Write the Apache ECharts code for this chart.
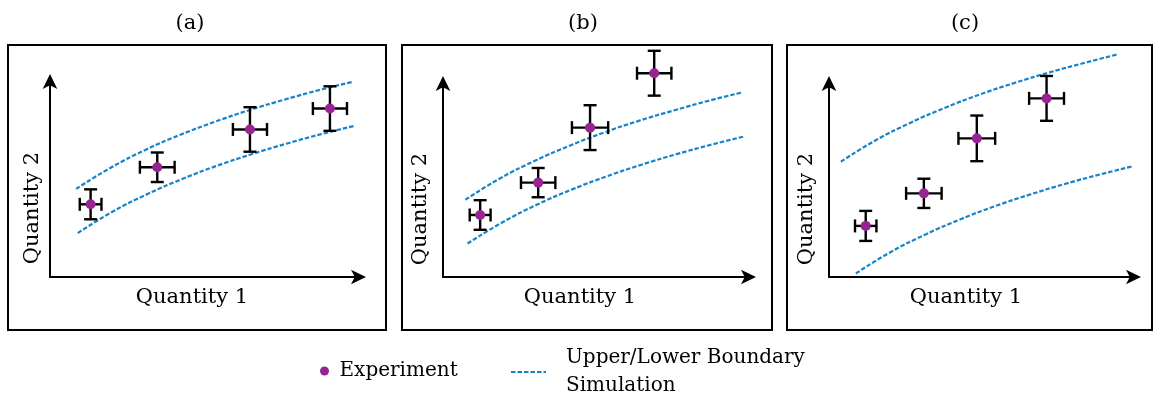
<!DOCTYPE html>
<html>
<head>
<meta charset="utf-8">
<script src="https://cdn.jsdelivr.net/npm/echarts@6/dist/echarts.min.js"></script>
<style>
html,body{margin:0;padding:0;background:#fff;}
#chart{width:1154px;height:401px;}
</style>
</head>
<body>
<div id="chart"></div>
<script>
// ---- data (arbitrary units, axes run 0..10) ----
const panelTitles = ['(a)', '(b)', '(c)'];
const xName = 'Quantity 1';
const yName = 'Quantity 2';
const expName = 'Experiment';
const simName = 'Upper/Lower Boundary\nSimulation';

// experiment points: [x, y, xError, yError]
const expA = [[1.31,3.69,0.35,0.76],[3.46,5.57,0.56,0.75],[6.45,7.49,0.55,1.13],[9.03,8.55,0.55,1.13]];
const expB = [[1.21,3.18,0.34,0.76],[3.10,4.84,0.56,0.75],[4.79,7.66,0.59,1.15],[6.88,10.45,0.56,1.15]];
const expC = [[1.20,2.62,0.35,0.77],[3.10,4.29,0.58,0.75],[4.83,7.11,0.60,1.17],[7.11,9.16,0.57,1.15]];

// simulation boundaries: [x, y]
const upperA = [[0.84,4.47],[1.94,5.53],[3.06,6.44],[4.19,7.21],[5.32,7.88],[6.45,8.48],[7.58,9.01],[8.71,9.50],[9.77,9.91]];
const lowerA = [[0.90,2.23],[2.00,3.30],[3.13,4.20],[4.26,4.97],[5.39,5.65],[6.52,6.24],[7.65,6.78],[8.77,7.26],[9.84,7.68]];
const upperB = [[0.73,3.96],[1.84,5.04],[2.98,5.95],[4.12,6.73],[5.26,7.42],[6.40,8.02],[7.54,8.55],[8.68,9.05],[9.76,9.47]];
const lowerB = [[0.80,1.71],[1.91,2.78],[3.05,3.70],[4.19,4.48],[5.33,5.16],[6.47,5.76],[7.61,6.30],[8.75,6.79],[9.82,7.21]];
const upperC = [[0.39,5.91],[1.50,6.99],[2.65,7.90],[3.79,8.68],[4.93,9.36],[6.08,9.96],[7.22,10.50],[8.37,10.99],[9.44,11.42]];
const lowerC = [[0.88,0.18],[1.99,1.26],[3.14,2.17],[4.28,2.95],[5.42,3.63],[6.57,4.23],[7.71,4.77],[8.86,5.26],[9.93,5.68]];

const axisMin = 0, axisMax = 10;

// ---- styling / layout ----
const FONT = 'DejaVu Serif';
const PURPLE = '#982494';
const BLUE = '#1784c9';
const grids = [
  {left: 50, top: 80, width: 310, height: 197},
  {left: 443, top: 82, width: 307, height: 195},
  {left: 829, top: 82, width: 306, height: 195}
];
const titleCenters = [190, 583, 965];
const xNamePad = [26, 33, 32];
const yNameGap = [7, 12, 12];
const borders = [
  {x: 8, y: 45, width: 378, height: 285},
  {x: 402, y: 45, width: 370, height: 285},
  {x: 787, y: 45, width: 365, height: 285}
];

const expSets = [expA, expB, expC];
const upperSets = [upperA, upperB, upperC];
const lowerSets = [lowerA, lowerB, lowerC];

function errorBarItem(params, api) {
  const x = api.value(0), y = api.value(1), ex = api.value(2), ey = api.value(3);
  const l = api.coord([x - ex, y]), r = api.coord([x + ex, y]);
  const t = api.coord([x, y + ey]), b = api.coord([x, y - ey]);
  const cap = 6.5;
  const st = {stroke: '#000', lineWidth: 2.4};
  const ln = (x1, y1, x2, y2) => ({type: 'line', shape: {x1, y1, x2, y2}, style: st});
  return {
    type: 'group',
    children: [
      ln(l[0], l[1], r[0], r[1]),
      ln(t[0], t[1], b[0], b[1]),
      ln(t[0] - cap, t[1], t[0] + cap, t[1]),
      ln(b[0] - cap, b[1], b[0] + cap, b[1]),
      ln(l[0], l[1] - cap, l[0], l[1] + cap),
      ln(r[0], r[1] - cap, r[0], r[1] + cap)
    ]
  };
}

const xAxes = [], yAxes = [], series = [], titles = [];
const axisLine = {
  show: true, onZero: false,
  lineStyle: {color: '#000', width: 2},
  symbol: ['none', 'arrow'], symbolSize: [11, 15], symbolOffset: [0, 6]
};
for (let i = 0; i < 3; i++) {
  titles.push({
    text: panelTitles[i], left: titleCenters[i], top: 13, textAlign: 'center', padding: 0,
    textStyle: {fontFamily: FONT, fontSize: 21, fontWeight: 'normal', color: '#000'}
  });
  xAxes.push({
    type: 'value', gridIndex: i, min: axisMin, max: axisMax,
    name: xName, nameLocation: 'middle', nameGap: 10,
    nameTextStyle: {fontFamily: FONT, fontSize: 21, color: '#000', padding: [0, xNamePad[i], 0, 0]},
    axisLine, axisTick: {show: false}, axisLabel: {show: false}, splitLine: {show: false}
  });
  yAxes.push({
    type: 'value', gridIndex: i, min: axisMin, max: axisMax,
    name: yName, nameLocation: 'middle', nameGap: yNameGap[i],
    nameTextStyle: {fontFamily: FONT, fontSize: 21, color: '#000', padding: [0, 59, 0, 0]},
    axisLine, axisTick: {show: false}, axisLabel: {show: false}, splitLine: {show: false}
  });
  [upperSets[i], lowerSets[i]].forEach(d => {
    series.push({
      type: 'line', name: simName, xAxisIndex: i, yAxisIndex: i, data: d,
      smooth: true, symbol: 'none', showSymbol: false, clip: false, z: 2,
      lineStyle: {color: BLUE, width: 2.2, type: [4.5, 2]}, itemStyle: {color: BLUE},
      emphasis: {disabled: true}
    });
  });
  series.push({
    type: 'custom', name: 'errors' + i, xAxisIndex: i, yAxisIndex: i,
    data: expSets[i], encode: {x: 0, y: 1}, renderItem: errorBarItem, clip: false, z: 3,
    silent: true
  });
  series.push({
    type: 'scatter', name: expName, xAxisIndex: i, yAxisIndex: i,
    data: expSets[i].map(d => [d[0], d[1]]), symbol: 'circle', symbolSize: 10,
    itemStyle: {color: PURPLE, opacity: 1}, clip: false, z: 4,
    emphasis: {disabled: true}
  });
}

const chart = echarts.init(document.getElementById('chart'), null, {renderer: 'canvas'});
chart.setOption({
  animation: false,
  backgroundColor: '#fff',
  title: titles,
  grid: grids,
  xAxis: xAxes,
  yAxis: yAxes,
  legend: [
    {
      data: [expName], left: 320, top: 357, padding: 0,
      itemWidth: 20, itemHeight: 9, icon: 'circle',
      textStyle: {fontFamily: FONT, fontSize: 20, color: '#000', lineHeight: 28}
    },
    {
      data: [simName], left: 510, top: 344, padding: 0,
      itemWidth: 35, itemHeight: 10,
      itemStyle: {color: 'rgba(0,0,0,0)', borderWidth: 0, opacity: 0},
      textStyle: {fontFamily: FONT, fontSize: 20, color: '#000', lineHeight: 28, padding: [0, 0, 0, 15]}
    }
  ],
  graphic: borders.map(b => ({
    type: 'rect', shape: b, silent: true, z: 100,
    style: {fill: 'none', stroke: '#000', lineWidth: 2}
  })),
  series
});
</script>
</body>
</html>
